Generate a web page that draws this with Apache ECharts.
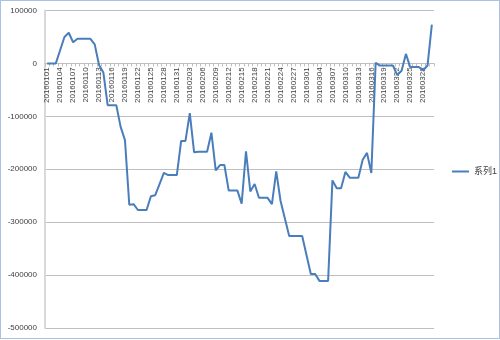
<!DOCTYPE html>
<html><head><meta charset="utf-8">
<script src="https://cdn.jsdelivr.net/npm/echarts@6/dist/echarts.min.js"></script>
<style>
html,body{margin:0;padding:0;background:#fff;}
#wrap{position:absolute;left:0;top:0;width:498px;height:337px;border:1px solid #a9c1e2;}
#c{width:500px;height:340px;position:absolute;left:0;top:0;}
</style></head><body>
<div id="wrap"></div>
<div id="c"></div>
<script>
const seriesName = '系列1';
const startDate = '20160101';
const dayCount = 90;
const values = [
  0, 0, 0, 25000, 50000, 58000, 40000, 46500, 46500, 46500,
  46500, 36000, -3000, -17000, -79000, -79000, -79000, -120000, -145000, -267000,
  -266000, -277000, -277000, -277000, -251000, -249000, -228000, -207000, -211000, -211000,
  -211000, -146500, -146500, -94000, -168000, -167000, -167000, -167000, -131000, -202000,
  -192000, -192000, -240000, -240000, -240000, -265000, -166000, -242000, -228000, -254000,
  -254000, -254000, -266000, -204000, -260000, -293000, -326000, -326000, -326000, -326000,
  -362000, -398000, -398000, -411000, -411000, -411000, -221000, -236000, -236000, -205000,
  -216000, -216000, -216000, -182000, -169000, -207000, 1000, -4000, -4000, -4000,
  -4000, -22000, -14000, 18000, -7000, -7000, -7000, -13000, -4000, 73500
];
const yMin = -500000, yMax = 100000, yStep = 100000;

// consecutive calendar days as category labels
const categories = [];
(function(){
  const d = new Date(Date.UTC(2016, 0, 1));
  for (let i = 0; i < dayCount; i++) {
    const y = d.getUTCFullYear(), m = d.getUTCMonth() + 1, dd = d.getUTCDate();
    categories.push('' + y + (m < 10 ? '0' : '') + m + (dd < 10 ? '0' : '') + dd);
    d.setUTCDate(d.getUTCDate() + 1);
  }
})();

const H = 340, gridTop = 10.5, gridBottom = 12;
const plotH = H - gridTop - gridBottom;
// move the category axis up to the zero line (as Excel does)
const zeroOffset = -plotH * (0 - yMin) / (yMax - yMin);

const font = '"Liberation Sans", "Noto Sans CJK SC", sans-serif';
const chart = echarts.init(document.getElementById('c'), null, {renderer: 'canvas'});
chart.setOption({
  animation: false,
  textStyle: {fontFamily: font},
  grid: {left: 45, right: 66, top: gridTop, bottom: gridBottom, outerBoundsMode: 'none', containLabel: false},
  legend: {
    data: [seriesName],
    orient: 'vertical',
    left: 447, top: 162,
    icon: 'rect', itemWidth: 17, itemHeight: 2, itemGap: 4,
    textStyle: {fontSize: 9, color: '#404040', fontFamily: font}
  },
  xAxis: {
    type: 'category',
    data: categories,
    position: 'bottom',
    offset: zeroOffset,
    boundaryGap: true,
    axisLine: {onZero: false, lineStyle: {color: '#bfbfbf', width: 1}},
    axisTick: {show: true, interval: 0, length: 3, lineStyle: {color: '#bfbfbf'}},
    axisLabel: {interval: 2, rotate: 90, fontSize: 8, color: '#404040', margin: 4, fontFamily: font},
    splitLine: {show: false}
  },
  yAxis: {
    type: 'value',
    min: yMin, max: yMax, interval: yStep,
    axisLine: {show: true, onZero: false, lineStyle: {color: '#d9d9d9', width: 2}},
    axisTick: {show: false},
    axisLabel: {fontSize: 8, color: '#404040', margin: 8, fontFamily: font,
      formatter: function (v) { return String(v); }},
    splitLine: {show: true, lineStyle: {color: '#bfbfbf', width: 1}}
  },
  series: [{
    name: seriesName,
    type: 'line',
    data: values,
    symbol: 'none',
    lineStyle: {color: '#4a7ebb', width: 2},
    itemStyle: {color: '#4a7ebb'}
  }]
});
</script>
</body></html>
